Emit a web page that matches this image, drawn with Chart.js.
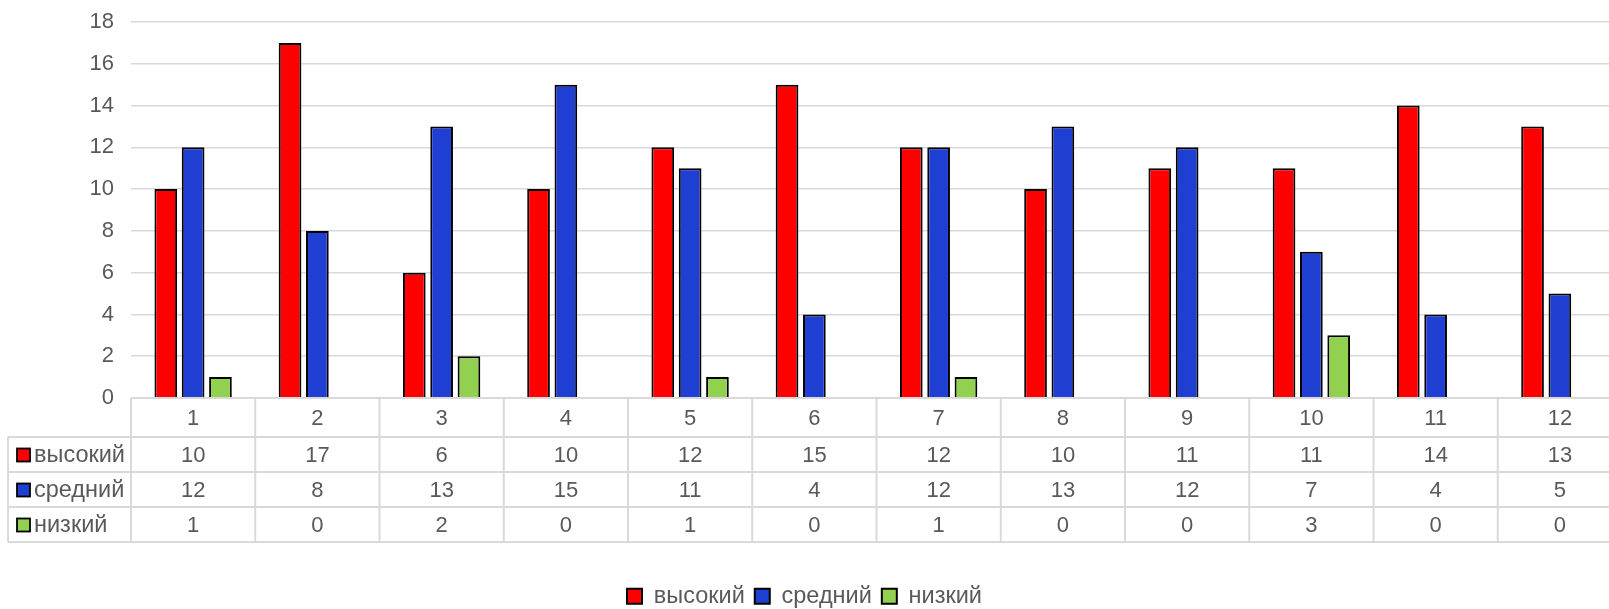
<!DOCTYPE html>
<html>
<head>
<meta charset="utf-8">
<script src="https://cdn.jsdelivr.net/npm/chart.js@4.4.1/dist/chart.umd.min.js"></script>
<style>
  html, body { margin: 0; padding: 0; overflow: hidden; background: #fff; width: 1609px; height: 609px; }
  #wrap { position: absolute; left: 0; top: 0; width: 1622px; height: 618px; }
</style>
</head>
<body>
<div id="wrap"><canvas id="c" width="1622" height="618"></canvas></div>
<script>
const categories = ['1','2','3','4','5','6','7','8','9','10','11','12'];
const seriesNames = ['высокий', 'средний', 'низкий'];
const high = [10, 17, 6, 10, 12, 15, 12, 10, 11, 11, 14, 13];
const mid  = [12, 8, 13, 15, 11, 4, 12, 13, 12, 7, 4, 5];
const low  = [1, 0, 2, 0, 1, 0, 1, 0, 0, 3, 0, 0];
const yTicks = [0, 2, 4, 6, 8, 10, 12, 14, 16, 18];

const colors = ['#FF0000', '#1F3FD3', '#92D050'];
const seriesValues = [high, mid, low];
const TEXT = '#595959';
const GRID = '#D9D9D9';
const FONT = "'Liberation Sans', Arial, sans-serif";
const FS = 22;
const FS_LABEL = 23.5;

const tablePlugin = {
  id: 'dataTable',
  afterLayout(chart) {
    const lg = chart.legend;
    if (lg) { lg.left -= 6.5; lg.right -= 6.5; }
  },
  afterDraw(chart) {
    const ctx = chart.ctx;
    const x = chart.scales.x;
    const area = chart.chartArea;
    const top = area.bottom;
    const headerH = 39, rowH = 35;
    const nRows = seriesNames.length;
    const bottom = top + headerH + rowH * nRows;
    const labelLeft = 8;
    const step = x.getPixelForValue(1) - x.getPixelForValue(0);
    const colEdges = categories.map((c, i) => x.getPixelForValue(i) - step / 2);
    colEdges.push(x.getPixelForValue(categories.length - 1) + step / 2);
    ctx.save();
    ctx.strokeStyle = GRID;
    ctx.lineWidth = 2;
    ctx.beginPath();
    ctx.moveTo(area.left, top); ctx.lineTo(colEdges[colEdges.length - 1], top);
    for (let r = 0; r <= nRows; r++) {
      const yy = top + headerH + r * rowH;
      ctx.moveTo(labelLeft, yy); ctx.lineTo(colEdges[colEdges.length - 1], yy);
    }
    ctx.moveTo(labelLeft, top + headerH); ctx.lineTo(labelLeft, bottom);
    colEdges.forEach(cx => { ctx.moveTo(cx, top); ctx.lineTo(cx, bottom); });
    ctx.stroke();

    ctx.fillStyle = TEXT;
    ctx.font = FS + 'px ' + FONT;
    ctx.textAlign = 'center';
    ctx.textBaseline = 'middle';
    categories.forEach((c, i) => {
      ctx.fillText(c, x.getPixelForValue(i), top + headerH / 2 + 1);
    });
    seriesNames.forEach((name, r) => {
      const cy = top + headerH + r * rowH + rowH / 2 + 1;
      ctx.fillStyle = colors[r];
      ctx.fillRect(17, cy - 7, 13, 13);
      ctx.strokeStyle = '#000';
      ctx.lineWidth = 1.8;
      ctx.strokeRect(17, cy - 7, 13, 13);
      ctx.fillStyle = TEXT;
      ctx.textAlign = 'left';
      ctx.font = FS_LABEL + 'px ' + FONT;
      ctx.fillText(name, 34, cy);
      ctx.font = FS + 'px ' + FONT;
      ctx.textAlign = 'center';
      seriesValues[r].forEach((v, i) => {
        ctx.fillText(String(v), x.getPixelForValue(i), cy);
      });
    });
    ctx.restore();
  }
};

new Chart(document.getElementById('c'), {
  type: 'bar',
  data: {
    labels: categories,
    datasets: seriesNames.map((n, i) => ({
      label: n,
      data: seriesValues[i],
      backgroundColor: colors[i],
      borderColor: '#000',
      borderWidth: 2,
      categoryPercentage: 0.66,
      barPercentage: 0.83
    }))
  },
  options: {
    responsive: false,
    animation: false,
    devicePixelRatio: 1,
    layout: { padding: { top: 22, left: 0, right: 0, bottom: 0 } },
    plugins: {
      legend: {
        position: 'bottom',
        labels: {
          color: TEXT,
          font: { family: FONT, size: FS_LABEL },
          boxWidth: 15,
          boxHeight: 15,
          padding: 10,
          generateLabels(chart) {
            return chart.data.datasets.map((d, i) => ({
              text: d.label,
              fillStyle: d.backgroundColor,
              strokeStyle: '#000',
              lineWidth: 2,
              fontColor: TEXT,
              datasetIndex: i,
              hidden: false
            }));
          }
        }
      },
      tooltip: { enabled: false }
    },
    scales: {
      x: {
        grid: { display: false, drawTicks: false },
        border: { display: false },
        ticks: { display: false },
        afterFit(scale) { scale.height = 176.5; }
      },
      y: {
        min: 0,
        max: 18,
        afterBuildTicks(scale) { scale.ticks = yTicks.map(v => ({ value: v })); },
        afterFit(scale) { scale.width = 131; },
        grid: { color: GRID, lineWidth: 1.5, drawTicks: true, tickLength: 17, tickColor: 'rgba(0,0,0,0)' },
        border: { display: false },
        ticks: {
          color: TEXT,
          font: { family: FONT, size: FS },
          padding: 0
        }
      }
    }
  },
  plugins: [tablePlugin]
});
</script>
</body>
</html>
